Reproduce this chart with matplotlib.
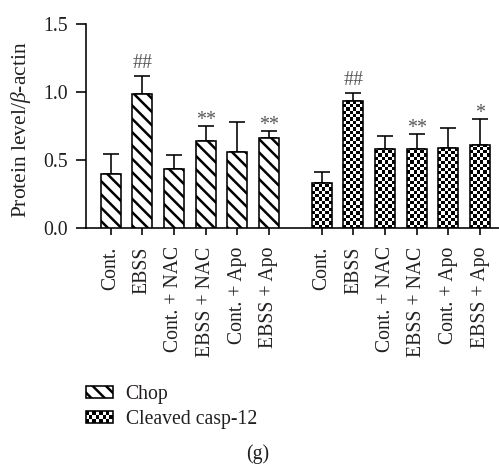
import numpy as np
import matplotlib
matplotlib.use("Agg")
import matplotlib.pyplot as plt
from matplotlib.patches import Rectangle, Patch
from matplotlib.legend_handler import HandlerBase

# ---------------- data ----------------
groups = ["Cont.", "EBSS", "Cont. + NAC", "EBSS + NAC", "Cont. + Apo", "EBSS + Apo"]
series_names = ["Chop", "Cleaved casp-12"]
chop_vals = [0.397, 0.985, 0.436, 0.644, 0.561, 0.662]
chop_err = [0.147, 0.135, 0.104, 0.106, 0.223, 0.053]
casp_vals = [0.333, 0.938, 0.581, 0.581, 0.593, 0.610]
casp_err = [0.083, 0.052, 0.100, 0.115, 0.142, 0.194]
chop_marks = ["", "##", "", "**", "", "**"]
casp_marks = ["", "##", "", "**", "", "*"]
y_ticks = [0.0, 0.5, 1.0, 1.5]
y_ticklabels = ["0.0", "0.5", "1.0", "1.5"]
ylabel = "Protein level/$\\beta$-actin"
panel_label = "(g)"

# ---------------- style ----------------
DPI = 80
W, H = 499, 464
def pt(px):
    return px * 72.0 / DPI

plt.rcParams["font.family"] = ["Liberation Serif", "DejaVu Serif"]
plt.rcParams["mathtext.fontset"] = "custom"
plt.rcParams["mathtext.rm"] = "Liberation Serif"
plt.rcParams["mathtext.it"] = "Liberation Serif:italic"
plt.rcParams["hatch.linewidth"] = pt(2.5)
TXT = "#231f20"
FS = pt(19.8)

fig = plt.figure(figsize=(W / DPI, H / DPI), dpi=DPI)
ax = fig.add_axes([85.7 / W, 1 - 228.3 / H, (W - 85.7) / W, (228.3 - 24) / H])

n = len(groups)
gap = 6.67
pos_chop = np.arange(n)
pos_casp = np.arange(n) + gap
bw = 0.63
lw = pt(1.6)

ax.set_xlim(-0.79, 12.27)
ax.set_ylim(0, 1.5)

# Chop bars: diagonal hatch
ax.bar(pos_chop, chop_vals, width=bw, facecolor="white", edgecolor="black",
       hatch="\\\\", linewidth=lw, zorder=3)
ax.errorbar(pos_chop, chop_vals, yerr=[np.zeros(n), chop_err], fmt="none",
            ecolor="black", elinewidth=lw, capsize=pt(8), capthick=lw, zorder=1)

# Cleaved casp-12 bars: checkerboard fill clipped to bars
casp_bars = ax.bar(pos_casp, casp_vals, width=bw, facecolor="none",
                   edgecolor="black", linewidth=lw, zorder=3)
ax.errorbar(pos_casp, casp_vals, yerr=[np.zeros(n), casp_err], fmt="none",
            ecolor="black", elinewidth=lw, capsize=pt(8), capthick=lw, zorder=1)

p0 = ax.transData.transform((0, 0))
p1 = ax.transData.transform((1, 1))
px_y = p1[1] - p0[1]
cell_px = 3.35
for rect in casp_bars:
    x0, y0 = rect.get_x(), rect.get_y()
    w, h = rect.get_width(), rect.get_height()
    nx = 6
    dy = cell_px / px_y
    ny = int(np.ceil(h / dy)) + 1
    ii, jj = np.meshgrid(np.arange(nx), np.arange(ny))
    img = ((ii + jj) % 2).astype(float)
    im = ax.imshow(img, cmap="gray", vmin=0, vmax=1, origin="lower",
                   extent=(x0, x0 + w, y0, y0 + ny * dy), aspect="auto",
                   interpolation="nearest", zorder=2)
    bg = Rectangle((x0, y0), w, h, transform=ax.transData, facecolor="none", edgecolor="none")
    ax.add_patch(bg)
    im.set_clip_path(bg)

ax.set_xlim(-0.79, 12.27)
ax.set_ylim(0, 1.5)

# significance marks
ANN = "#555555"
for pos, vals, errs, marks in [(pos_chop, chop_vals, chop_err, chop_marks),
                               (pos_casp, casp_vals, casp_err, casp_marks)]:
    for p, v, e, m in zip(pos, vals, errs, marks):
        if not m:
            continue
        off = 8.0 if "#" in m else 1.0
        ax.annotate(m, (p, v + e), xytext=(0, pt(off)), textcoords="offset points",
                    ha="center", va="baseline", fontsize=pt(20), color=ANN)

# axes styling
for s in ["top", "right"]:
    ax.spines[s].set_visible(False)
for s in ["left", "bottom"]:
    ax.spines[s].set_linewidth(lw)
    ax.spines[s].set_color("black")
ax.set_yticks(y_ticks)
ax.set_yticklabels(y_ticklabels)
ax.set_xticks(np.concatenate([pos_chop, pos_casp]))
ax.set_xticklabels(groups + groups, rotation=90, va="top", ha="center")
ax.tick_params(axis="y", length=pt(10), width=lw, pad=pt(8), labelsize=FS, labelcolor=TXT)
ax.tick_params(axis="x", length=pt(7), width=lw, pad=pt(11), labelsize=FS, labelcolor=TXT)

fig.text(21 / W, 1 - 130 / H, ylabel, rotation=90, ha="center", va="center",
         fontsize=pt(21.5), color=TXT)

# legend
class HandlerChecker(HandlerBase):
    def create_artists(self, legend, orig_handle, xdescent, ydescent, width, height,
                       fontsize, trans):
        arts = []
        x0, y0 = -xdescent, -ydescent
        nx, ny = 8, 3
        cw, ch = width / nx, height / ny
        arts.append(Rectangle((x0, y0), width, height, facecolor="white",
                              edgecolor="none", transform=trans))
        for i in range(nx):
            for j in range(ny):
                if (i + j) % 2 == 0:
                    arts.append(Rectangle((x0 + i * cw, y0 + j * ch), cw, ch,
                                          facecolor="black", edgecolor="none",
                                          transform=trans))
        arts.append(Rectangle((x0, y0), width, height, facecolor="none",
                              edgecolor="black", linewidth=lw, transform=trans))
        return arts

class CheckerKey:
    pass

h_chop = Patch(facecolor="white", edgecolor="black", hatch="\\\\", linewidth=lw)
h_casp = CheckerKey()
leg = fig.legend([h_chop, h_casp], series_names, loc="upper left",
                 bbox_to_anchor=(85.7 / W, 1 - 385 / H), frameon=False,
                 fontsize=FS, handlelength=27 / 19.8, handleheight=10 / 19.8,
                 handletextpad=13 / 19.8, labelspacing=0.3, borderpad=0,
                 borderaxespad=0, handler_map={CheckerKey: HandlerChecker()})
for t in leg.get_texts():
    t.set_color(TXT)

fig.text(258 / W, 1 - 454 / H, panel_label, ha="center", va="center",
         fontsize=FS, color=TXT)

fig.savefig("out.png", dpi=DPI)
